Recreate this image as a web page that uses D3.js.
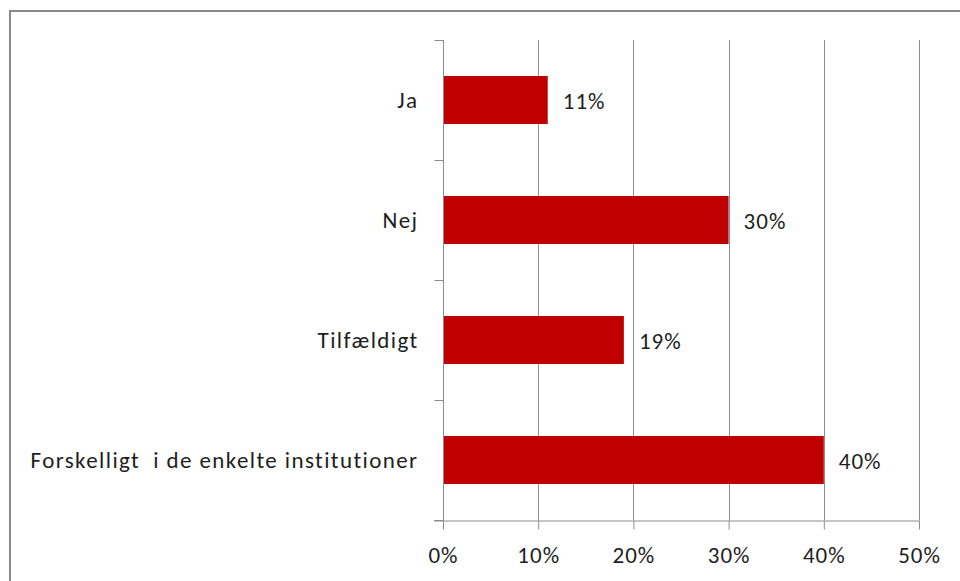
<!DOCTYPE html>
<html><head><meta charset="utf-8">
<script src="https://cdn.jsdelivr.net/npm/d3@7"></script>
<style>body{margin:0;background:#fff;overflow:hidden}</style>
</head><body>
<svg id="c" width="960" height="581"></svg>
<script>
const categories = ["Ja", "Nej", "Tilfældigt", "Forskelligt  i de enkelte institutioner"];
const values = [0.11, 0.30, 0.19, 0.40];
const valueLabels = ["11%", "30%", "19%", "40%"];
const xTicks = [0, 0.1, 0.2, 0.3, 0.4, 0.5];

const svg = d3.select("#c");
const font = "Calibri, Carlito, Lato, 'Open Sans', sans-serif";
const fs = 23, ls = "1.4px";
const pLeft = 443, pRight = 919, pTop = 40, pBottom = 520;

svg.append("rect").attr("x", 10).attr("y", 11).attr("width", 1000).attr("height", 700)
  .attr("fill", "none").attr("stroke", "#898989").attr("stroke-width", 2);

const x = d3.scaleLinear().domain([0, 0.5]).range([pLeft, pRight]);
const y = d3.scaleBand().domain(categories).range([pTop, pBottom]).paddingInner(0.6).paddingOuter(0.3);
const yb = d3.scaleBand().domain(categories).range([pTop, pBottom]);

// gridlines
svg.append("g").selectAll("line").data(xTicks.slice(1)).join("line")
  .attr("x1", d => Math.round(x(d)) + 0.5).attr("x2", d => Math.round(x(d)) + 0.5)
  .attr("y1", pTop).attr("y2", pBottom).attr("stroke", "#8c8c8c").attr("stroke-width", 1);

// bars
svg.append("g").selectAll("rect").data(categories).join("rect")
  .attr("x", pLeft).attr("y", d => y(d)).attr("height", y.bandwidth())
  .attr("width", (d, i) => x(values[i]) - pLeft).attr("fill", "#C00000");

// x axis
const xa = svg.append("g").attr("transform", `translate(0,${pBottom + 0.5})`)
  .call(d3.axisBottom(x).tickValues(xTicks).tickFormat(d3.format(".0%")).tickSize(9).tickPadding(17));
xa.select(".domain").attr("stroke", "#8c8c8c").attr("d", `M${pLeft - 9},0.5H${pRight + 0.5}`);
xa.selectAll(".tick line").attr("stroke", "#8c8c8c");
xa.selectAll("text").attr("font-family", font).attr("font-size", fs).attr("fill", "#1e1e1e")
  .style("letter-spacing", "1px");

// y axis
const ya = svg.append("g").attr("transform", `translate(${pLeft + 0.5},0)`);
ya.append("line").attr("x1", 0).attr("x2", 0).attr("y1", pTop).attr("y2", pBottom).attr("stroke", "#8c8c8c");
const yTickPos = [pTop].concat(categories.map(c => yb(c) + yb.step()));
ya.selectAll("line.t").data(yTickPos).join("line").attr("class", "t")
  .attr("x1", -9).attr("x2", 0).attr("y1", d => d + 0.5).attr("y2", d => d + 0.5).attr("stroke", "#8c8c8c");
ya.selectAll("text").data(categories).join("text")
  .attr("x", -25).attr("y", d => yb(d) + yb.bandwidth() / 2).attr("dy", "0.36em")
  .attr("text-anchor", "end").attr("font-family", font).attr("font-size", fs).attr("fill", "#1e1e1e")
  .style("letter-spacing", ls).style("white-space", "pre").text(d => d);

// value labels
svg.append("g").selectAll("text").data(categories).join("text")
  .attr("x", (d, i) => x(values[i]) + 15).attr("y", d => y(d) + y.bandwidth() / 2).attr("dy", "0.38em")
  .attr("font-family", font).attr("font-size", fs).attr("fill", "#1e1e1e")
  .style("letter-spacing", "1px").text((d, i) => valueLabels[i]);
</script>
</body></html>
